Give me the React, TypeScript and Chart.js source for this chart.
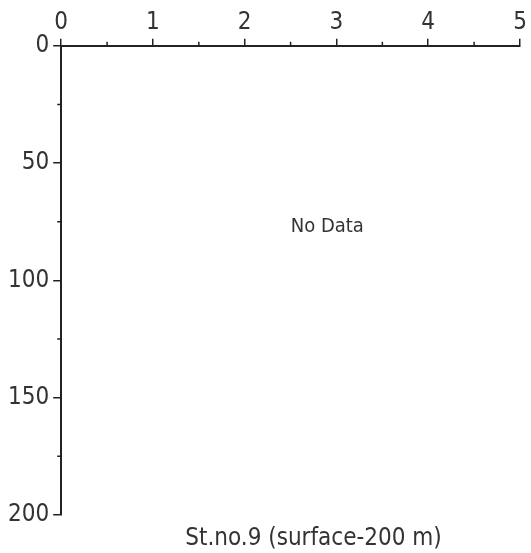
import React, { useEffect, useRef } from "react";
import { Chart, registerables } from "chart.js";

Chart.register(...registerables);

const xMajorTicks = [0, 1, 2, 3, 4, 5];
const xMinorTicks = [0.5, 1.5, 2.5, 3.5, 4.5];
const yMajorTicks = [0, 50, 100, 150, 200];
const yMinorTicks = [25, 75, 125, 175];
const chartTitle = "St.no.9 (surface-200 m)";
const noDataText = "No Data";
const noDataPos = { x: 2.9, y: 77 };
const titlePos = { x: 2.75 };

const FONT = "'DejaVu Sans Condensed', 'DejaVu Sans', sans-serif";
const AXIS = "#222222";
const TEXT = "#333333";

const overlay = {
  id: "overlay",
  afterDraw(chart: any) {
    const ctx = chart.ctx;
    const xs = chart.scales.x;
    const ys = chart.scales.y;
    const area = chart.chartArea;
    ctx.save();
    ctx.strokeStyle = AXIS;
    ctx.lineWidth = 1.5;
    ctx.beginPath();
    for (const v of xMinorTicks) {
      const px = xs.getPixelForValue(v);
      ctx.moveTo(px, area.top);
      ctx.lineTo(px, area.top - 4);
    }
    for (const v of yMinorTicks) {
      const py = ys.getPixelForValue(v);
      ctx.moveTo(area.left, py);
      ctx.lineTo(area.left - 4, py);
    }
    ctx.stroke();
    ctx.fillStyle = TEXT;
    ctx.textAlign = "center";
    ctx.textBaseline = "middle";
    ctx.font = `20px ${FONT}`;
    ctx.fillText(noDataText, xs.getPixelForValue(noDataPos.x), ys.getPixelForValue(noDataPos.y));
    ctx.font = `24px ${FONT}`;
    ctx.textBaseline = "alphabetic";
    ctx.fillText(chartTitle, xs.getPixelForValue(titlePos.x), area.bottom + 30);
    ctx.restore();
  },
};

export default function App() {
  const ref = useRef<HTMLCanvasElement | null>(null);
  useEffect(() => {
    document.body.style.margin = "0";
    const chart = new Chart(ref.current as HTMLCanvasElement, {
      type: "scatter",
      data: { datasets: [{ data: [] }] },
      options: {
        animation: false,
        responsive: false,
        layout: { padding: { top: 6, left: 4, right: 11, bottom: 38 } },
        plugins: { legend: { display: false }, tooltip: { enabled: false } },
        scales: {
          x: {
            type: "linear",
            position: "top",
            min: 0,
            max: 5,
            afterBuildTicks: (s: any) => {
              s.ticks = xMajorTicks.map((v) => ({ value: v }));
            },
            ticks: { color: TEXT, font: { size: 24, family: FONT }, padding: 2 },
            grid: { drawOnChartArea: false, drawTicks: true, tickLength: 7, color: AXIS, lineWidth: 1.5 },
            border: { display: true, color: AXIS, width: 2 },
          },
          y: {
            type: "linear",
            reverse: true,
            min: 0,
            max: 200,
            afterBuildTicks: (s: any) => {
              s.ticks = yMajorTicks.map((v) => ({ value: v }));
            },
            ticks: { color: TEXT, font: { size: 24, family: FONT }, padding: 4 },
            grid: { drawOnChartArea: false, drawTicks: true, tickLength: 8, color: AXIS, lineWidth: 1.5 },
            border: { display: true, color: AXIS, width: 2 },
          },
        },
      },
      plugins: [overlay],
    });
    return () => chart.destroy();
  }, []);
  return <canvas ref={ref} width={531} height={553} style={{ display: "block", background: "#fff" }} />;
}
